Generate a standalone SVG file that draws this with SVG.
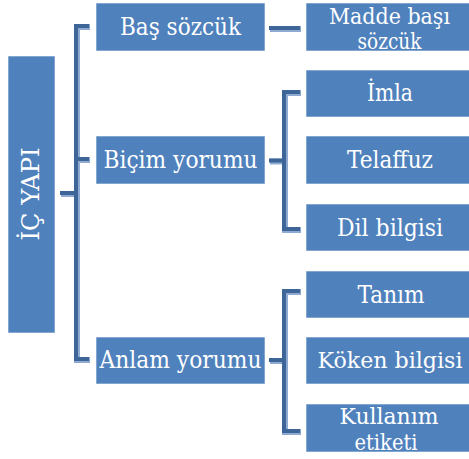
<svg xmlns="http://www.w3.org/2000/svg" width="469" height="459" viewBox="0 0 469 459">
<defs>
<style>
.box{fill:#4F81BD;stroke:#ffffff;stroke-opacity:0.6;stroke-width:1}
.t{font-family:'DejaVu Serif','Liberation Serif',serif;font-size:24px;fill:#ffffff;text-anchor:middle}
.t2{font-size:21.5px}
.t3{font-size:22px}
.cl{fill:none;stroke:#8EAAD2;stroke-width:6}
.cd{fill:none;stroke:#3E6598;stroke-width:4}
</style>
<g id="conn-paths">
<path id="p1" d="M61,194 H77"/>
<path id="p2" d="M90,27 H77 V360 H90 M77,160 H90"/>
<path id="p3" d="M270,29 H301"/>
<path id="p4" d="M270,161.5 H285 M301,93 H285 V230 H301"/>
<path id="p5" d="M270,361 H285 M301,292 H285 V432 H301"/>
</g>
</defs>
<rect width="469" height="459" fill="#ffffff"/>
<g id="connectors">
<use href="#p1" class="cl"/><use href="#p2" class="cl"/><use href="#p3" class="cl"/><use href="#p4" class="cl"/><use href="#p5" class="cl"/>
<g transform="translate(-1,-1)">
<use href="#p1" class="cd"/><use href="#p2" class="cd"/><use href="#p3" class="cd"/><use href="#p4" class="cd"/><use href="#p5" class="cd"/>
</g>
</g>
<g id="n-root">
<rect class="box" x="8" y="56" width="47" height="277"/>
<text class="t" transform="translate(39,194) rotate(-90)" x="0" y="0" textLength="93" lengthAdjust="spacingAndGlyphs">İÇ YAPI</text>
</g>
<g id="n-bas">
<rect class="box" x="96" y="3" width="169" height="48"/>
<text class="t" x="180.5" y="35" textLength="121" lengthAdjust="spacingAndGlyphs">Baş sözcük</text>
</g>
<g id="n-bicim">
<rect class="box" x="96" y="136" width="169" height="48"/>
<text class="t" x="180.5" y="168" textLength="154" lengthAdjust="spacingAndGlyphs">Biçim yorumu</text>
</g>
<g id="n-anlam">
<rect class="box" x="96" y="337" width="169" height="47"/>
<text class="t" x="180.5" y="368" textLength="162" lengthAdjust="spacingAndGlyphs">Anlam yorumu</text>
</g>
<g id="n-madde">
<rect class="box" x="306" y="3" width="169" height="48"/>
<text class="t t2" x="389.5" y="24" textLength="121" lengthAdjust="spacingAndGlyphs">Madde başı</text>
<text class="t t2" x="389.5" y="49" textLength="64" lengthAdjust="spacingAndGlyphs">sözcük</text>
</g>
<g id="n-imla">
<rect class="box" x="306" y="70" width="169" height="47"/>
<text class="t" x="390" y="101" textLength="46" lengthAdjust="spacingAndGlyphs">İmla</text>
</g>
<g id="n-telaffuz">
<rect class="box" x="306" y="136" width="169" height="48"/>
<text class="t" x="390" y="168" textLength="86" lengthAdjust="spacingAndGlyphs">Telaffuz</text>
</g>
<g id="n-dil">
<rect class="box" x="306" y="204" width="169" height="47"/>
<text class="t" x="390" y="235.5" textLength="106" lengthAdjust="spacingAndGlyphs">Dil bilgisi</text>
</g>
<g id="n-tanim">
<rect class="box" x="306" y="271" width="169" height="47"/>
<text class="t" x="391" y="303" textLength="67" lengthAdjust="spacingAndGlyphs">Tanım</text>
</g>
<g id="n-koken">
<rect class="box" x="306" y="337" width="169" height="47"/>
<text class="t t3" x="390" y="368" textLength="145" lengthAdjust="spacingAndGlyphs">Köken bilgisi</text>
</g>
<g id="n-kullanim">
<rect class="box" x="306" y="404" width="169" height="48"/>
<text class="t t2" x="389" y="424" textLength="99" lengthAdjust="spacingAndGlyphs">Kullanım</text>
<text class="t t2" x="386" y="450" textLength="63" lengthAdjust="spacingAndGlyphs">etiketi</text>
</g>
</svg>
